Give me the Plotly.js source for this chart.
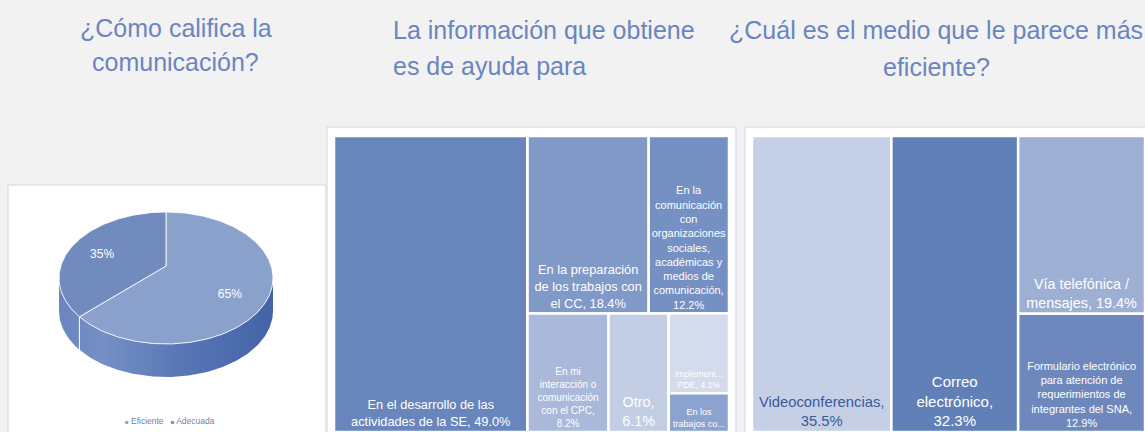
<!DOCTYPE html>
<html><head><meta charset="utf-8">
<script src="https://cdn.plot.ly/plotly-3.0.1.min.js"></script>
<style>html,body{margin:0;padding:0;background:#f2f2f2;}#chart{width:1145px;height:432px;}</style>
</head><body><div id="chart"></div>
<script>
// ---------------- DATA ----------------
const titles = [
  ['¿Cómo califica la', 'comunicación?'],
  ['La información que obtiene', 'es de ayuda para'],
  ['¿Cuál es el medio que le parece más', 'eficiente?']
];

const pieCategories = ['Eficiente', 'Adecuada'];
const pieValues = [65, 35];

const infoCategories = [
  'En el desarrollo de las actividades de la SE',
  'En la preparación de los trabajos con el CC',
  'En la comunicación con organizaciones sociales, académicas y medios de comunicación',
  'En mi interacción o comunicación con el CPC',
  'Otro',
  'Implement... PDE',
  'En los trabajos co...'
];
const infoValues = [49.0, 18.4, 12.2, 8.2, 6.1, 4.1, 2.0];
const infoText = [
  'En el desarrollo de las<br>actividades de la SE, {v}',
  'En la preparación<br>de los trabajos con<br>el CC, {v}',
  'En la<br>comunicación<br>con<br>organizaciones<br>sociales,<br>académicas y<br>medios de<br>comunicación,<br>{v}',
  'En mi<br>interacción o<br>comunicación<br>con el CPC,<br>{v}',
  'Otro,<br>{v}',
  'Implement...<br>PDE, {v}',
  'En los<br>trabajos co...'
];

const mediumCategories = [
  'Videoconferencias',
  'Correo electrónico',
  'Vía telefónica / mensajes',
  'Formulario electrónico para atención de requerimientos de integrantes del SNA'
];
const mediumValues = [35.5, 32.3, 19.4, 12.9];
const mediumText = [
  'Videoconferencias,<br>{v}',
  'Correo<br>electrónico,<br>{v}',
  'Vía telefónica /<br>mensajes, {v}',
  'Formulario electrónico<br>para atención de<br>requerimientos de<br>integrantes del SNA,<br>{v}'
];

// ---------------- STYLE / LAYOUT ----------------
const FONT = 'Liberation Sans, Arial, sans-serif';
const TITLE_COLOR = '#6a85bf';
const W = 1145, H = 432;

const pieTopColors = ['#8aa1cb', '#718bbf'];
const pieSideScale = [[0, '#6a85be'], [0.2, '#7590c5'], [0.55, '#5a78b6'], [1, '#4363a7']];
const PIE = {cx: 166, cy: 278, a: 107, b: 66, depth: 33, hubLift: 12, labelR: 0.67};

const infoColors = ['#6886bb', '#8099c7', '#7590c2', '#aab9d9', '#c3cde4', '#d3dbec', '#8da3cf'];
const infoTextColors = ['white', 'white', 'white', 'white', 'white', 'white', 'white'];
const infoSizes = [12.8, 12.8, 11, 10, 14.4, 8.8, 9];
// tile arrangement (grouping only)
const infoTree = {id: 'root', children: [0, {id: 'rest', children: [
  {id: 'top', children: [1, 2]},
  {id: 'bottom', children: [3, 4, {id: 'small', children: [5, 6]}]}
]}]};

const mediumColors = ['#c5d0e6', '#6180b8', '#9eafd4', '#6e88bd'];
const mediumTextColors = ['#3d5a98', 'white', 'white', 'white'];
const mediumSizes = [14.8, 15, 14.4, 11];
const mediumTree = {id: 'root', children: [0, 1, {id: 'side', children: [2, 3]}]};

// ---------------- PIE (3D look) ----------------
function rim(t, dy) {
  const r = t * Math.PI / 180;
  return [PIE.cx + PIE.a * Math.sin(r), PIE.cy - PIE.b * Math.cos(r) + (dy || 0)];
}
function arc(t1, t2, dy) {
  const n = Math.max(2, Math.ceil(Math.abs(t2 - t1)));
  const pts = [];
  for (let i = 0; i <= n; i++) pts.push(rim(t1 + (t2 - t1) * i / n, dy));
  return pts;
}
const traces = [];
const total = pieValues.reduce((s, v) => s + v, 0);
let acc = 0;
const slices = pieValues.map(v => { const t1 = acc; acc += 360 * v / total; return [t1, acc]; });
const hub = [PIE.cx, PIE.cy - PIE.hubLift];

// side walls
slices.forEach((s, i) => {
  const lo = Math.max(s[0], 90), hi = Math.min(s[1], 270);
  if (hi <= lo) return;
  const pts = arc(lo, hi, 0).concat(arc(hi, lo, PIE.depth));
  pts.push(pts[0]);
  traces.push({
    type: 'scatter', mode: 'lines', x: pts.map(p => p[0]), y: pts.map(p => p[1]),
    fill: 'toself', line: {width: 0}, hoverinfo: 'skip', showlegend: false,
    fillgradient: {type: 'horizontal', colorscale: pieSideScale, start: PIE.cx - PIE.a, stop: PIE.cx + PIE.a}
  });
});
// top faces
slices.forEach((s, i) => {
  const pts = [hub].concat(arc(s[0], s[1], 0)).concat([hub]);
  traces.push({
    type: 'scatter', mode: 'lines', x: pts.map(p => p[0]), y: pts.map(p => p[1]),
    fill: 'toself', fillcolor: pieTopColors[i], line: {color: 'rgba(255,255,255,0.85)', width: 1},
    name: pieCategories[i], hoverinfo: 'skip', showlegend: false
  });
});
// boundaries on the side wall
slices.forEach(s => {
  [s[0], s[1]].forEach(t => {
    const tt = ((t % 360) + 360) % 360;
    if (tt > 90 && tt < 270) {
      const p = rim(tt, 0), q = rim(tt, PIE.depth);
      traces.push({type: 'scatter', mode: 'lines', x: [p[0], q[0]], y: [p[1], q[1]],
        line: {color: 'rgba(255,255,255,0.7)', width: 1}, hoverinfo: 'skip', showlegend: false});
    }
  });
});
// percentage labels
traces.push({
  type: 'scatter', mode: 'text', hoverinfo: 'skip', showlegend: false,
  x: slices.map(s => { const m = (s[0] + s[1]) / 2 * Math.PI / 180; return PIE.cx + PIE.a * PIE.labelR * Math.sin(m); }),
  y: slices.map(s => { const m = (s[0] + s[1]) / 2 * Math.PI / 180; return PIE.cy - 3 - PIE.b * PIE.labelR * Math.cos(m); }),
  text: pieValues.map(v => Math.round(v / total * 100) + '%'),
  textfont: {family: FONT, size: 12, color: 'white'}
});

// ---------------- TREEMAPS ----------------
function buildTree(prefix, tree, cats, vals, texts, colors, tcolors, sizes) {
  const o = {ids: [], parents: [], labels: [], values: [], text: [], colors: [], tcolors: [], sizes: []};
  (function walk(node, parent) {
    if (typeof node === 'number') {
      o.ids.push(prefix + '_' + node); o.parents.push(parent); o.labels.push(cats[node]);
      o.values.push(vals[node]); o.text.push(texts[node].replace('{v}', vals[node].toFixed(1) + '%'));
      o.colors.push(colors[node]); o.tcolors.push(tcolors[node]); o.sizes.push(sizes[node]);
    } else {
      const id = prefix + '_' + node.id;
      o.ids.push(id); o.parents.push(parent); o.labels.push(' '); o.values.push(0); o.text.push('');
      o.colors.push('white'); o.tcolors.push('white'); o.sizes.push(10);
      node.children.forEach(c => walk(c, id));
    }
  })(tree, '');
  return o;
}
function treemapTrace(t, domain) {
  return {
    type: 'treemap', ids: t.ids, parents: t.parents, labels: t.labels, values: t.values,
    branchvalues: 'remainder', sort: false, text: t.text, textinfo: 'text',
    textposition: 'bottom center', hoverinfo: 'skip',
    textfont: {family: FONT, size: t.sizes, color: t.tcolors},
    marker: {colors: t.colors, line: {color: 'white', width: 2.5}, pad: {t: 0, l: 0, r: 0, b: 0}},
    leaf: {opacity: 1}, tiling: {packing: 'slice-dice', pad: 0},
    pathbar: {visible: false}, domain: domain
  };
}
const infoT = buildTree('i', infoTree, infoCategories, infoValues, infoText, infoColors, infoTextColors, infoSizes);
const medT = buildTree('m', mediumTree, mediumCategories, mediumValues, mediumText, mediumColors, mediumTextColors, mediumSizes);
traces.push(treemapTrace(infoT, {x: [334 / W, 729 / W], y: [0, 1 - 136 / H]}));
traces.push(treemapTrace(medT, {x: [752 / W, 1], y: [0, 1 - 136 / H]}));

// ---------------- LAYOUT ----------------
const px = x => x / W, py = y => 1 - y / H;
const panel = (x0, y0, x1) => ({type: 'rect', xref: 'paper', yref: 'paper', layer: 'below',
  x0: px(x0), x1: px(x1), y0: -0.1, y1: py(y0), fillcolor: 'white', line: {color: '#dde3ee', width: 1.5}});

const annotations = [];
const titlePos = [{x: 175.5, anchor: 'center', y: [28, 62]}, {x: 391, anchor: 'left', y: [30, 66]}, {x: 936, anchor: 'center', y: [30, 67]}];
titles.forEach((lines, i) => lines.forEach((line, j) => annotations.push({
  xref: 'paper', yref: 'paper', x: px(titlePos[i].x), y: py(titlePos[i].y[j]),
  xanchor: titlePos[i].anchor, yanchor: 'middle', showarrow: false, text: line,
  font: {family: FONT, size: 25, color: TITLE_COLOR}
})));
annotations.push({
  xref: 'paper', yref: 'paper', x: px(170), y: py(421), xanchor: 'center', yanchor: 'middle', showarrow: false,
  text: pieCategories.map((c, i) => `<span style="color:${pieTopColors[i]};font-size:6px">■</span> ${c}`).join('   '),
  font: {family: FONT, size: 8.5, color: '#7084ad'}
});

const layout = {
  width: W, height: H, margin: {l: 0, r: 0, t: 0, b: 0},
  paper_bgcolor: '#f2f2f2', plot_bgcolor: 'rgba(0,0,0,0)',
  xaxis: {domain: [0, 1], range: [0, W], visible: false, fixedrange: true},
  yaxis: {domain: [0, 1], range: [H, 0], visible: false, fixedrange: true},
  showlegend: false,
  shapes: [panel(8, 185, 326), panel(327, 127, 736), panel(745, 127, 1160)],
  annotations: annotations
};
Plotly.newPlot('chart', traces, layout, {displayModeBar: false, staticPlot: true});
</script></body></html>
